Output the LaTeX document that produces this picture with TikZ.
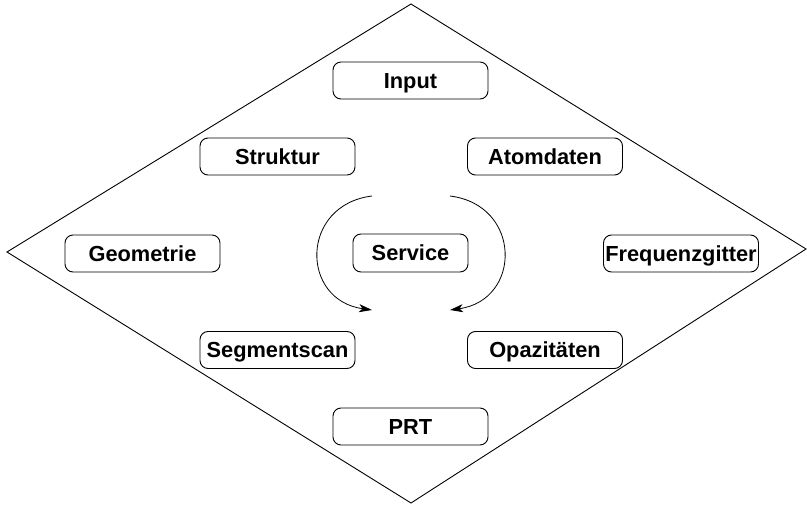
\documentclass[tikz,border=0pt]{standalone}
\usepackage{fontspec}
\setmainfont{Liberation Sans}
\usetikzlibrary{arrows.meta}
\begin{document}
\begin{tikzpicture}[x=1pt,y=-1pt,
  box/.style={draw,line width=0.9pt,rounded corners=8pt,minimum width=155pt,minimum height=37pt,inner sep=0pt,text height=16pt,text depth=0pt,font=\fontsize{21.8}{26}\selectfont\bfseries},
  cyc/.style={line width=0.8pt,-{Stealth[length=13pt,width=8pt,inset=3.5pt]}}]
\useasboundingbox (0,0) rectangle (807,505);
\coordinate (T) at (411,4);
\coordinate (R) at (806,249);
\coordinate (B) at (411,503);
\coordinate (L) at (7,252);
\draw[line width=0.9pt] (T) -- (R) -- (B) -- (L) -- cycle;
\node[box] (input) at (410.5,80.5) {Input};
\node[box] (struktur) at (277.5,156.5) {Struktur};
\node[box] (atom) at (545,156.5) {Atomdaten};
\node[box] (geo) at (142.5,253.5) {Geometrie};
\node[box,minimum width=115pt,minimum height=38pt] (service) at (410.5,253) {Service};
\node[box] (freq) at (681,253.5) {Frequenzgitter};
\node[box] (seg) at (277.5,350) {Segmentscan};
\node[box] (opa) at (545,350) {Opazitäten};
\node[box] (prt) at (410.5,426.5) {PRT};
\coordinate (la) at (372,196);
\coordinate (lb) at (372,310);
\coordinate (ra) at (450,196);
\coordinate (rb) at (450,310);
\draw[cyc] (la) .. controls (300,205) and (300,300) .. (lb);
\draw[cyc] (ra) .. controls (522,205) and (522,300) .. (rb);
\end{tikzpicture}
\end{document}
